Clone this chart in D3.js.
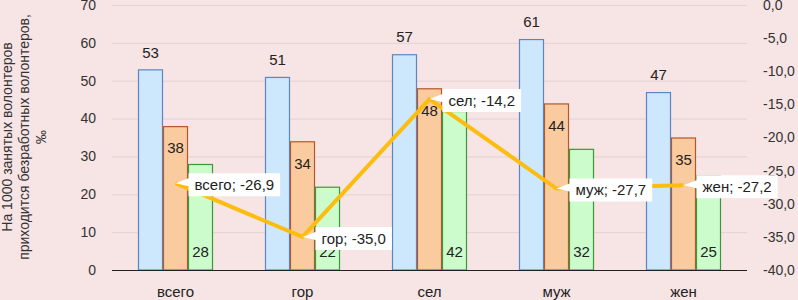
<!DOCTYPE html>
<html>

<head>
    <meta charset='utf-8'>
    <title>Volunteers</title>
    <script type='text/javascript' src='https://cdn.jsdelivr.net/npm/d3@7/dist/d3.min.js'></script>
    <style>
        body { margin: 0; background: #f7e4e4; }
        svg { display: block; font-family: 'Liberation Sans', Arial, sans-serif; }
    </style>
</head>

<body>
    <svg width='798' height='300'></svg>
    <script type='text/javascript'>

        const categories = ['всего', 'гор', 'сел', 'муж', 'жен']
        const seriesA = [53, 51, 57, 61, 47]   // blue
        const seriesB = [38, 34, 48, 44, 35]   // orange
        const seriesC = [28, 22, 42, 32, 25]   // green
        const lineValues = [-26.9, -35.0, -14.2, -27.7, -27.2]
        const leftTicks = [0, 10, 20, 30, 40, 50, 60, 70]
        const rightTicks = [0, -5, -10, -15, -20, -25, -30, -35, -40]

        const svg = d3.select('svg')
        const margin = { top: 5, left: 112, bottom: 30, right: 51 }
        const width = +svg.attr('width'), height = +svg.attr('height')

        svg.append('rect').attr('width', width).attr('height', height).attr('fill', '#f7e4e4')

        const x = d3.scaleBand().domain(categories).range([margin.left, width - margin.right])
        const sub = d3.scaleBand().domain(['a', 'b', 'c'])
            .range([(x.bandwidth() - 75) / 2, (x.bandwidth() + 75) / 2])
        const yL = d3.scaleLinear().domain([0, 70]).range([height - margin.bottom, margin.top])
        const yR = d3.scaleLinear().domain([-40, 0]).range([height - margin.bottom, margin.top])

        // grid
        svg.append('g').selectAll('line').data(leftTicks.slice(1)).join('line')
            .attr('x1', margin.left).attr('x2', width - margin.right)
            .attr('y1', d => yL(d) + 0.5).attr('y2', d => yL(d) + 0.5)
            .attr('stroke', '#e3d3d3').attr('stroke-width', 1)

        // left ticks
        svg.append('g').selectAll('text').data(leftTicks).join('text')
            .attr('x', 96).attr('y', d => yL(d)).attr('dy', '0.35em')
            .attr('text-anchor', 'end').style('font-size', '14px').attr('fill', '#333')
            .text(d => d)

        // right ticks
        const fmtR = v => d3.format('.1f')(v).replace('.', ',').replace('−', '-')
        svg.append('g').selectAll('text').data(rightTicks).join('text')
            .attr('x', 763).attr('y', d => yR(d)).attr('dy', '0.35em')
            .attr('text-anchor', 'start').style('font-size', '14px').attr('fill', '#333')
            .text(d => fmtR(d))

        // y title
        const title = svg.append('text')
            .attr('transform', 'translate(29,137) rotate(-90)')
            .attr('text-anchor', 'middle').style('font-size', '14px').attr('fill', '#333')
        title.append('tspan').attr('x', 0).attr('y', -17).text('На 1000 занятых волонтеров')
        title.append('tspan').attr('x', 0).attr('y', 0).text('приходится безработных волонтеров,')
        title.append('tspan').attr('x', 0).attr('y', 17).text('‰')

        const series = [
            { key: 'a', values: seriesA, fill: '#cde8fd', stroke: '#5b86c3' },
            { key: 'b', values: seriesB, fill: '#fbcba0', stroke: '#b5562c' },
            { key: 'c', values: seriesC, fill: '#ccfccc', stroke: '#3a9a3a' }
        ]

        const groups = svg.append('g').selectAll('g').data(categories).join('g')
            .attr('transform', d => `translate(${x(d)},0)`)

        series.forEach(s => {
            groups.append('rect')
                .attr('x', (d, i) => sub(s.key) + 0.5)
                .attr('y', (d, i) => yL(s.values[i]) + 0.5)
                .attr('width', sub.bandwidth() - 1)
                .attr('height', (d, i) => yL(0) - yL(s.values[i]) - 0.5)
                .attr('fill', s.fill).attr('stroke', s.stroke).attr('stroke-width', 1.2)
        })

        // bar labels
        const labelY = {
            a: v => yL(v) - 17,
            b: v => yL(v) + 22,
            c: v => yL(0) - 18
        }
        series.forEach(s => {
            groups.append('text')
                .attr('x', sub(s.key) + sub.bandwidth() / 2)
                .attr('y', (d, i) => labelY[s.key](s.values[i]))
                .attr('dy', '0.35em').attr('text-anchor', 'middle')
                .style('font-size', '15px').attr('fill', '#222')
                .text((d, i) => s.values[i])
        })

        // x axis line
        svg.append('line')
            .attr('x1', margin.left).attr('x2', width - margin.right)
            .attr('y1', yL(0) + 0.5).attr('y2', yL(0) + 0.5)
            .attr('stroke', '#222').attr('stroke-width', 1)

        // category labels
        svg.append('g').selectAll('text').data(categories).join('text')
            .attr('x', d => x(d) + x.bandwidth() / 2).attr('y', 292).attr('dy', '0.35em')
            .attr('text-anchor', 'middle').style('font-size', '15px').attr('fill', '#222')
            .text(d => d)

        // line
        const pts = categories.map((c, i) => [x(c) + x.bandwidth() / 2, yR(lineValues[i])])
        svg.append('path')
            .attr('d', d3.line()(pts))
            .attr('fill', 'none').attr('stroke', '#fbbd10').attr('stroke-width', 4)
            .attr('stroke-linejoin', 'round')

        // line labels (callouts)
        const fmtL = v => d3.format('.1f')(v).replace('.', ',').replace('−', '-')
        const callouts = svg.append('g')
        pts.forEach((p, i) => {
            const g = callouts.append('g')
            const t = g.append('text')
                .style('font-size', '15px').attr('fill', '#222')
                .text(`${categories[i]}; ${fmtL(lineValues[i])}`)
            const tw = t.node().getComputedTextLength()
            const bx = p[0] + 13, bh = 23, bw = tw + 12
            const by = p[1] - 10
            const path = `M${bx},${by} H${bx + bw} V${by + bh} H${bx} V${by + 13} L${p[0]},${p[1]} L${bx},${by + 5} Z`
            g.insert('path', 'text').attr('d', path).attr('fill', '#ffffff')
            t.attr('x', bx + 6).attr('y', by + bh / 2).attr('dy', '0.35em')
        })
    </script>
</body>

</html>
